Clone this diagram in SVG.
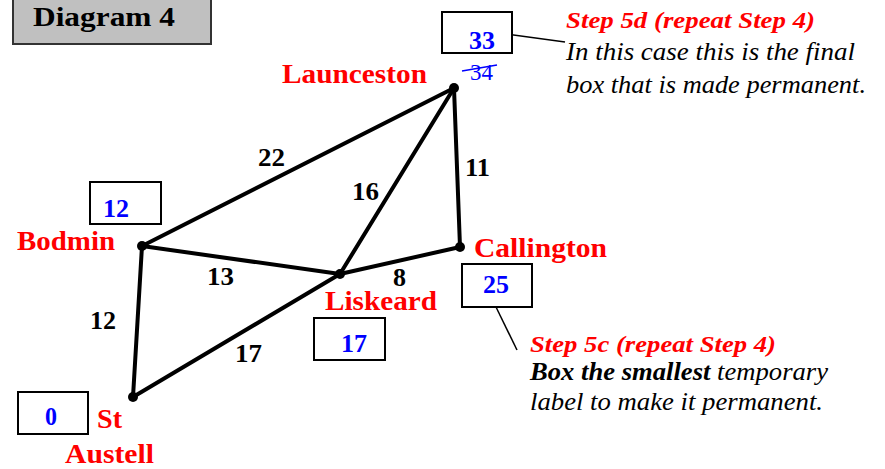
<svg xmlns="http://www.w3.org/2000/svg" width="885" height="469" viewBox="0 0 885 469">
<style>
.bg{fill:#ffffff}
.edge{stroke:#000;stroke-width:4;stroke-linecap:round;fill:none}
.lead{stroke:#000;stroke-width:1.5;fill:none}
.box{fill:#fff;stroke:#000;stroke-width:2}
.dot{fill:#000}
text{font-family:"Liberation Serif","DejaVu Serif","Times New Roman",serif}
.place{font-weight:bold;font-size:27px;fill:#ff0000}
.val{font-weight:bold;font-size:26px;fill:#0000ff}
.wt{font-weight:bold;font-size:26px;fill:#000}
.step{font-weight:bold;font-style:italic;font-size:23px;fill:#ff0000}
.note{font-style:italic;font-size:25px;fill:#000}
</style>
<rect class="bg" x="0" y="0" width="885" height="469"/>
<g id="title">
<rect x="13" y="-1" width="198" height="45" fill="#c0c0c0" stroke="#333" stroke-width="2"/>
<text x="33" y="26" font-weight="bold" font-size="28" textLength="142" lengthAdjust="spacingAndGlyphs">Diagram 4</text>
</g>
<g id="connectors">
<line class="edge" x1="142" y1="246" x2="454" y2="88"/>
<line class="edge" x1="142" y1="246" x2="340" y2="274"/>
<line class="edge" x1="142" y1="246" x2="133" y2="397"/>
<line class="edge" x1="454" y1="88" x2="340" y2="274"/>
<line class="edge" x1="454" y1="88" x2="460" y2="247"/>
<line class="edge" x1="340" y1="274" x2="460" y2="247"/>
<line class="edge" x1="133" y1="397" x2="340" y2="274"/>
<line class="lead" x1="506" y1="34" x2="565" y2="42"/>
<line class="lead" x1="496" y1="307" x2="517" y2="350"/>
<text class="wt" x="258" y="166" textLength="27" lengthAdjust="spacingAndGlyphs">22</text>
<text class="wt" x="352" y="200" textLength="27" lengthAdjust="spacingAndGlyphs">16</text>
<text class="wt" x="465" y="176" textLength="25" lengthAdjust="spacingAndGlyphs">11</text>
<text class="wt" x="207" y="285" textLength="27" lengthAdjust="spacingAndGlyphs">13</text>
<text class="wt" x="393" y="286" font-size="24" textLength="13" lengthAdjust="spacingAndGlyphs">8</text>
<text class="wt" x="90" y="329" textLength="26" lengthAdjust="spacingAndGlyphs">12</text>
<text class="wt" x="235" y="362" textLength="27" lengthAdjust="spacingAndGlyphs">17</text>
</g>
<g id="launceston">
<circle class="dot" cx="454" cy="88" r="5"/>
<text class="place" x="282" y="83" textLength="145" lengthAdjust="spacingAndGlyphs">Launceston</text>
<rect class="box" x="442" y="12" width="70" height="41"/>
<text class="val" x="469" y="49" textLength="26" lengthAdjust="spacingAndGlyphs">33</text>
<text x="470" y="80" font-size="24" fill="#0000ff" textLength="23" lengthAdjust="spacingAndGlyphs">34</text>
<line x1="462" y1="71" x2="497" y2="65" stroke="#0000ff" stroke-width="1.5"/>
</g>
<g id="bodmin">
<circle class="dot" cx="142" cy="246" r="5"/>
<text class="place" x="17" y="250" textLength="98" lengthAdjust="spacingAndGlyphs">Bodmin</text>
<rect class="box" x="90" y="182" width="71" height="42"/>
<text class="val" x="103" y="217" textLength="26" lengthAdjust="spacingAndGlyphs">12</text>
</g>
<g id="callington">
<circle class="dot" cx="460" cy="247" r="5"/>
<text class="place" x="474" y="257" textLength="133" lengthAdjust="spacingAndGlyphs">Callington</text>
<rect class="box" x="462" y="264" width="70" height="43"/>
<text class="val" x="483" y="293" textLength="26" lengthAdjust="spacingAndGlyphs">25</text>
</g>
<g id="liskeard">
<circle class="dot" cx="340" cy="274" r="5"/>
<text class="place" x="325" y="310" textLength="112" lengthAdjust="spacingAndGlyphs">Liskeard</text>
<rect class="box" x="314" y="318" width="71" height="42"/>
<text class="val" x="341" y="352" textLength="26" lengthAdjust="spacingAndGlyphs">17</text>
</g>
<g id="staustell">
<circle class="dot" cx="133" cy="397" r="5"/>
<text class="place" x="97" y="428" textLength="25" lengthAdjust="spacingAndGlyphs">St</text>
<text class="place" x="65" y="463" textLength="89" lengthAdjust="spacingAndGlyphs">Austell</text>
<rect class="box" x="18" y="392" width="70" height="42"/>
<text class="val" x="45" y="425" textLength="12" lengthAdjust="spacingAndGlyphs">0</text>
</g>
<g id="note5d">
<text class="step" x="566" y="28" textLength="249" lengthAdjust="spacingAndGlyphs">Step 5d (repeat Step 4)</text>
<text class="note" x="566" y="60" textLength="289" lengthAdjust="spacingAndGlyphs">In this case this is the final</text>
<text class="note" x="566" y="93" textLength="300" lengthAdjust="spacingAndGlyphs">box that is made permanent.</text>
</g>
<g id="note5c">
<text class="step" x="530" y="352" textLength="246" lengthAdjust="spacingAndGlyphs">Step 5c (repeat Step 4)</text>
<text class="note" x="530" y="380" textLength="298" lengthAdjust="spacingAndGlyphs"><tspan font-weight="bold">Box the smallest</tspan> temporary</text>
<text class="note" x="530" y="410" textLength="293" lengthAdjust="spacingAndGlyphs">label to make it permanent.</text>
</g>
</svg>
